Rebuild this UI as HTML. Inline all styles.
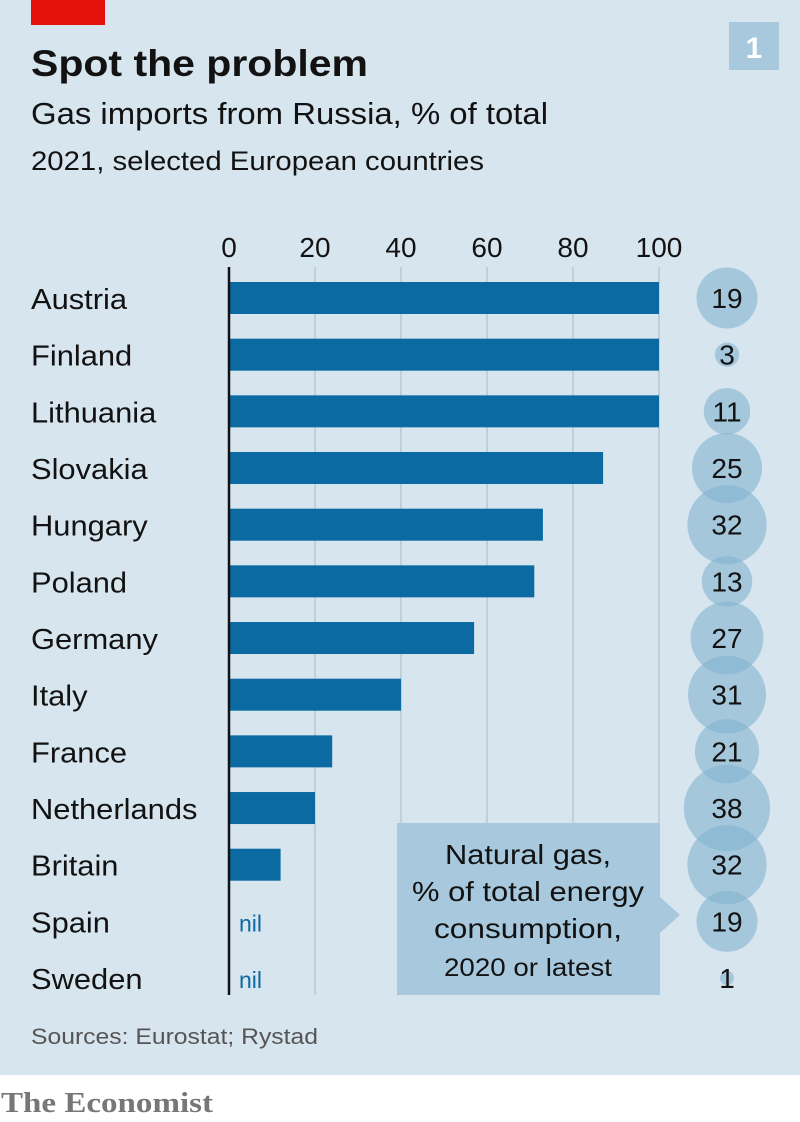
<!DOCTYPE html>
<html><head><meta charset="utf-8"><style>
html,body{margin:0;padding:0;width:800px;height:1122px;background:#fff;overflow:hidden}
svg{display:block}
text{font-family:"Liberation Sans",sans-serif}
</style></head><body>
<svg id="chart" width="800" height="1122" viewBox="0 0 800 1122">
<rect x="0" y="0" width="800" height="1075" fill="#d7e5ef"/>
<rect x="31" y="0" width="74" height="25" fill="#e3120b"/>
<rect x="729" y="22" width="50" height="48" fill="#a7c8dd"/>
<text x="754" y="58" font-size="30" fill="#fff" text-anchor="middle" font-weight="bold">1</text>
<text x="31" y="76" font-size="37" font-weight="bold" fill="#121212" textLength="337" lengthAdjust="spacingAndGlyphs">Spot the problem</text>
<text x="31" y="124" font-size="31" fill="#121212" textLength="517" lengthAdjust="spacingAndGlyphs">Gas imports from Russia, % of total</text>
<text x="31" y="170" font-size="27" fill="#121212" textLength="453" lengthAdjust="spacingAndGlyphs">2021, selected European countries</text>
<g id="grid"></g><g id="bars"></g><g id="circles"></g>
<g>
<path d="M397,823 H660 V897 L680,915 L660,933 V995 H397 Z" fill="#a7c8dd"/>
<text x="528" y="864" font-size="28" fill="#121212" text-anchor="middle" textLength="166" lengthAdjust="spacingAndGlyphs">Natural gas,</text>
<text x="528" y="901" font-size="28" fill="#121212" text-anchor="middle" textLength="232" lengthAdjust="spacingAndGlyphs">% of total energy</text>
<text x="528" y="938" font-size="28" fill="#121212" text-anchor="middle" textLength="188" lengthAdjust="spacingAndGlyphs">consumption,</text>
<text x="528" y="976" font-size="25" fill="#121212" text-anchor="middle" textLength="168" lengthAdjust="spacingAndGlyphs">2020 or latest</text>
</g>
<text x="31" y="1044" font-size="22" fill="#555" textLength="287" lengthAdjust="spacingAndGlyphs">Sources: Eurostat; Rystad</text>
<text x="1" y="1112" font-size="29" fill="#777" font-weight="bold" textLength="212" lengthAdjust="spacingAndGlyphs" style="font-family:'Liberation Serif',serif">The Economist</text>
</svg>
<script>
const countries=["Austria","Finland","Lithuania","Slovakia","Hungary","Poland","Germany","Italy","France","Netherlands","Britain","Spain","Sweden"];
const imports=[100,100,100,87,73,71,57,40,24,20,12,0,0];
const gasShare=[19,3,11,25,32,13,27,31,21,38,32,19,1];
const ticks=[0,20,40,60,80,100];
const NS="http://www.w3.org/2000/svg";
const x=v=>229+v*4.3;
const y=i=>298+i*56.67;
const r=v=>7*Math.sqrt(v);
function mk(tag,attrs,parent,txt){const e=document.createElementNS(NS,tag);for(const k in attrs)e.setAttribute(k,attrs[k]);if(txt!==undefined)e.textContent=txt;parent.appendChild(e);return e;}
const grid=document.getElementById('grid'),bars=document.getElementById('bars'),circ=document.getElementById('circles');
ticks.forEach(t=>{
  if(t>0){const l=mk('line',{x1:x(t),x2:x(t),y1:267,y2:995,stroke:'#b9c9d4','stroke-width':1.5},grid);
  
  }
  const tx=mk('text',{x:x(t),y:257,'font-size':28,fill:'#121212','text-anchor':'middle'},grid,String(t));
  
  
});
countries.forEach((c,i)=>{
  const lb=mk('text',{x:31,y:y(i)+11,'font-size':29,fill:'#121212',transform:'translate(31,0) scale(1.065,1) translate(-31,0)'},bars,c);
  
  
  if(imports[i]>0){
    const b=mk('rect',{x:x(0),y:y(i)-16,width:x(imports[i])-x(0),height:32,fill:'#0a6aa1'},bars);
    
    
  } else {
    const n=mk('text',{x:x(0)+10,y:y(i)+10,'font-size':23,fill:'#0a6aa1'},bars,'nil');
    
    
  }
  const ci=mk('circle',{cx:727,cy:y(i),r:r(gasShare[i]),fill:'#82b2cf','fill-opacity':0.6},circ);
  
  
  const ct=mk('text',{x:727,y:y(i)+10,'font-size':28,fill:'#121212','text-anchor':'middle'},circ,String(gasShare[i]));
  
  
});
const ax=mk('line',{x1:x(0),x2:x(0),y1:267,y2:995,stroke:'#121212','stroke-width':2.5},bars);


</script>
</body></html>
